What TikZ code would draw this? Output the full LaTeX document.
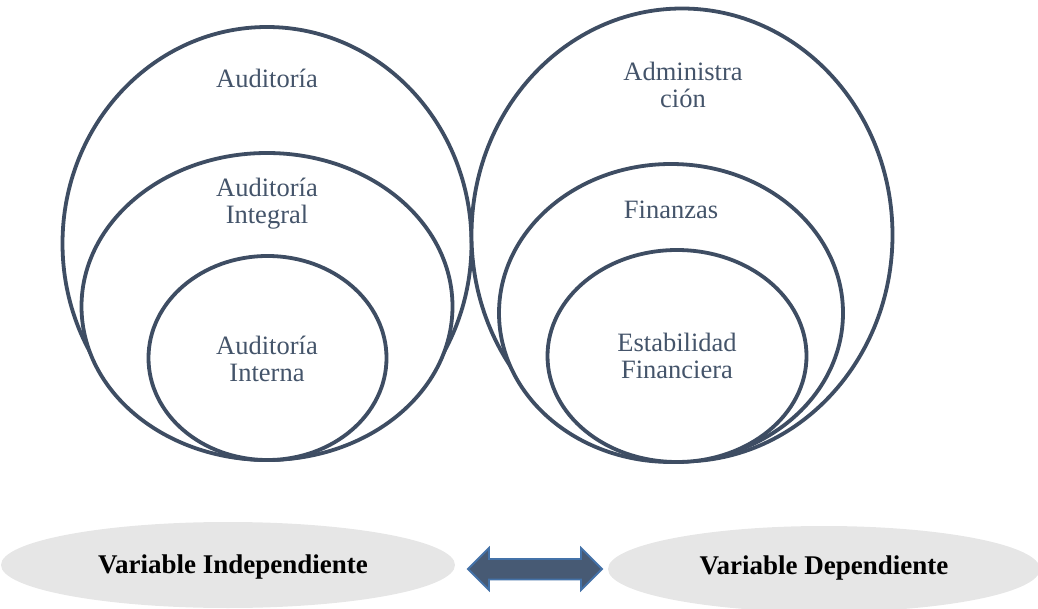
\documentclass[tikz,border=0pt]{standalone}
\usepackage{fontspec}
\setmainfont{Liberation Serif}
\usetikzlibrary{shapes.geometric}
\definecolor{txtblue}{HTML}{44546A}
\definecolor{ringcol}{HTML}{3E4D63}
\definecolor{ovalgrey}{HTML}{E6E6E6}
\definecolor{arrowfill}{HTML}{475A74}
\definecolor{arrowedge}{HTML}{4472A8}
\begin{document}
\begin{tikzpicture}[x=1pt,y=-1pt,
  ring/.style={ellipse, draw=ringcol, line width=3.8pt, fill=white, inner sep=0pt, outer sep=0pt},
  lbl/.style={text=txtblue, font=\fontsize{26.5}{26.5}\selectfont, align=center, inner sep=0pt},
  oval/.style={ellipse, fill=ovalgrey, draw=none, inner sep=0pt},
  vlbl/.style={text=black, font=\fontsize{27}{28}\selectfont\bfseries, inner sep=0pt}]
\useasboundingbox (0,0) rectangle (1038,609);
% left group
\node[ring, minimum width=409pt, minimum height=433pt] (lo) at (267,243.5) {};
\node[ring, minimum width=371pt, minimum height=307pt] (lm) at (267,306.5) {};
\node[ring, minimum width=238pt, minimum height=204pt] (li) at (267.5,358) {};
% right group
\node[ring, minimum width=421pt, minimum height=453pt] (ro) at (682,235) {};
\node[ring, minimum width=344pt, minimum height=298pt] (rm) at (671,313) {};
\node[ring, minimum width=259pt, minimum height=212pt] (ri) at (677,356) {};
% labels
\node[lbl] (t1) at (267,78) {Auditoría};
\node[lbl] (t2) at (267,203.5) {Auditoría\\Integral};
\node[lbl] (t3) at (267,359) {Auditoría\\Interna};
\node[lbl] (t4) at (683,85) {Administra\\ción};
\node[lbl] (t5) at (671,210) {Finanzas};
\node[lbl] (t6) at (677,356) {Estabilidad\\Financiera};
% bottom ovals
\node[oval, minimum width=454pt, minimum height=86pt] (vi) at (228,565) {};
\node[oval, minimum width=432pt, minimum height=86pt] (vd) at (824,569) {};
\node[vlbl] at (233,567) {Variable Independiente};
\node[vlbl] at (824,568) {Variable Dependiente};
% double arrow
\draw[fill=arrowfill, draw=arrowedge, line width=1.8pt, line join=miter]
  (468,569) -- (489,548) -- (489,559) -- (581,559) -- (581,548) -- (602,569)
  -- (581,590) -- (581,579.5) -- (489,579.5) -- (489,590) -- cycle;
\end{tikzpicture}
\end{document}
